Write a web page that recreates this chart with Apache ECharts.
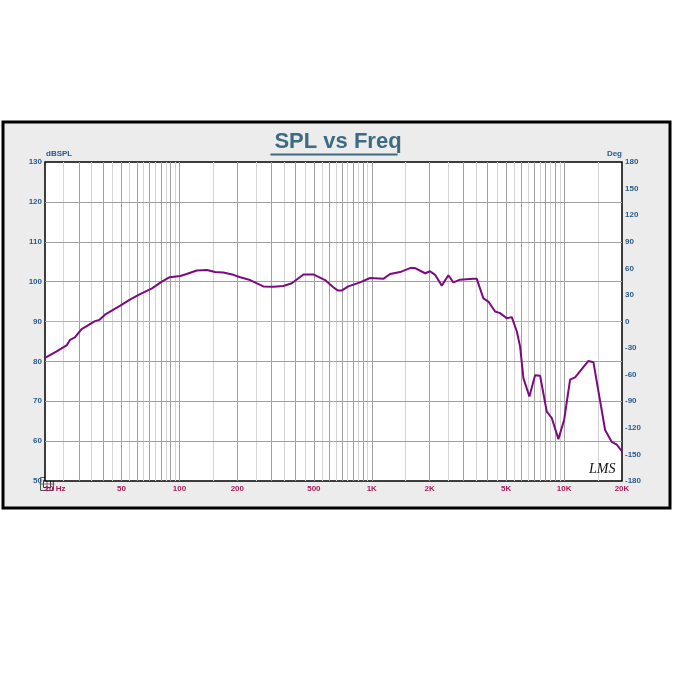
<!DOCTYPE html>
<html>
<head>
<meta charset="utf-8">
<script src="https://cdn.jsdelivr.net/npm/echarts@6/dist/echarts.min.js"></script>
<style>
html,body{margin:0;padding:0;background:#fff;}
#c{width:676px;height:676px;}
</style>
</head>
<body>
<div id="c"></div>
<script>
// ---- data ----
var freqHz = [20, 23, 26, 27, 28.6, 31, 36.4, 38.3, 41, 49, 55, 62, 72, 81, 89, 101, 109, 123, 139, 153, 169, 191, 207, 233, 273, 308, 347, 384, 441, 497, 572, 631, 665, 700, 755, 869, 980, 1149, 1245, 1404, 1582, 1679, 1893, 2010, 2134, 2312, 2502, 2657, 2878, 3374, 3516, 3804, 4040, 4378, 4647, 5036, 5346, 5678, 5906, 6144, 6600, 7066, 7502, 8126, 8628, 9340, 10000, 10744, 11406, 13378, 14204, 16338, 17702, 18794, 20000];
var splDb = [80.9, 82.5, 84.1, 85.4, 86.0, 88.1, 90.1, 90.4, 91.7, 93.9, 95.4, 96.8, 98.3, 100.0, 101.1, 101.4, 101.9, 102.8, 102.9, 102.4, 102.3, 101.7, 101.1, 100.4, 98.8, 98.7, 98.9, 99.6, 101.8, 101.8, 100.4, 98.6, 97.8, 97.8, 98.8, 99.8, 100.9, 100.7, 101.9, 102.4, 103.4, 103.4, 102.1, 102.6, 101.7, 99.0, 101.6, 99.8, 100.5, 100.7, 100.7, 95.8, 95.0, 92.5, 92.1, 90.8, 91.1, 87.5, 83.7, 75.8, 71.2, 76.5, 76.4, 67.4, 65.8, 60.5, 65.3, 75.4, 76.0, 80.1, 79.8, 62.8, 59.8, 59.1, 57.4];

var xTickValues = [20, 50, 100, 200, 500, 1000, 2000, 5000, 10000, 20000];
var xTickLabels = ['20 Hz', '50', '100', '200', '500', '1K', '2K', '5K', '10K', '20K'];
var dbGridLines = [60, 70, 80, 100, 110, 120];
var dbRefLine = 90;

// grid line frequencies (decade lines dark, half-steps light)
var majorGrid = [], minorGrid = [];
[10, 100, 1000, 10000].forEach(function (d) {
  for (var n = 1; n <= 9; n++) {
    var a = n * d, b = (n + 0.5) * d;
    if (a > 20 && a < 20000) majorGrid.push(a);
    if (b > 20 && b < 20000) minorGrid.push(b);
  }
});

var curve = freqHz.map(function (f, i) { return [f, splDb[i]]; });

var chart = echarts.init(document.getElementById('c'), null, {renderer: 'canvas'});

var titleText = 'SPL vs Freq';
var titleFont = 'bold 22px "Liberation Sans", Arial, sans-serif';
var mc = document.createElement('canvas').getContext('2d');
mc.font = titleFont;
var tw = mc.measureText(titleText).width;
var tcx = 334;

var blue = '#2a5a8c';
var red = '#a81a5a';
var lab = '"Liberation Sans", Arial, sans-serif';

var option = {
  animation: false,
  backgroundColor: '#ffffff',
  title: {
    text: titleText,
    left: 'center',
    top: 131,
    padding: 0,
    textStyle: {fontSize: 22, fontWeight: 'bold', color: '#3d6b82', fontFamily: lab}
  },
  grid: {
    left: 45, right: 54, top: 162, bottom: 195,
    show: true, backgroundColor: '#ffffff', borderColor: '#000000', borderWidth: 1.5, z: 1
  },
  xAxis: {
    type: 'log', logBase: 10, min: 20, max: 20000,
    axisLine: {show: false}, axisTick: {show: false}, splitLine: {show: false}, minorSplitLine: {show: false},
    axisLabel: {
      customValues: xTickValues,
      margin: 4,
      color: red, fontSize: 8, fontWeight: 'bold', fontFamily: lab,
      formatter: function (v) {
        var i = xTickValues.indexOf(Math.round(v));
        if (i === 0) return '{h|' + xTickLabels[0] + '}';
        return i >= 0 ? xTickLabels[i] : '';
      },
      rich: {h: {padding: [0, 0, 0, 20], color: red, fontSize: 8, fontWeight: 'bold', fontFamily: lab}}
    }
  },
  yAxis: [{
    type: 'value', min: 50, max: 130, interval: 10, position: 'left',
    name: 'dBSPL', nameLocation: 'end', nameGap: 2,
    nameTextStyle: {align: 'left', color: blue, fontSize: 8, fontWeight: 'bold', fontFamily: lab, padding: [0, 0, 0, 1]},
    axisLine: {show: false}, axisTick: {show: false}, splitLine: {show: false},
    axisLabel: {margin: 3, color: blue, fontSize: 8, fontWeight: 'bold', fontFamily: lab}
  }, {
    type: 'value', min: -180, max: 180, interval: 30, position: 'right',
    name: 'Deg', nameLocation: 'end', nameGap: 2,
    nameTextStyle: {align: 'right', color: blue, fontSize: 8, fontWeight: 'bold', fontFamily: lab},
    axisLine: {show: false}, axisTick: {show: false}, splitLine: {show: false},
    axisLabel: {margin: 3, color: blue, fontSize: 8, fontWeight: 'bold', fontFamily: lab}
  }],
  series: [{
    type: 'line', data: [], silent: true, z: 2,
    markLine: {
      silent: true, symbol: 'none', animation: false, label: {show: false},
      data: []
        .concat(minorGrid.map(function (f) { return {xAxis: f, lineStyle: {color: '#d4d4d4', width: 1, type: 'solid'}}; }))
        .concat(majorGrid.map(function (f) { return {xAxis: f, lineStyle: {color: '#a0a0a0', width: 1, type: 'solid'}}; }))
        .concat(dbGridLines.map(function (v) { return {yAxis: v, lineStyle: {color: '#a0a0a0', width: 1, type: 'solid'}}; }))
        .concat([{yAxis: dbRefLine, lineStyle: {color: '#d49ad4', width: 1, type: 'solid'}}])
    }
  }, {
    type: 'line', data: curve, showSymbol: false, silent: true, z: 5,
    lineStyle: {color: '#7d0a80', width: 2}
  }],
  graphic: [
    {type: 'rect', z: -10, shape: {x: 3, y: 122, width: 667, height: 386}, style: {fill: '#ececec', stroke: '#000', lineWidth: 3}},
    {type: 'line', z: 10, shape: {x1: tcx - tw / 2, y1: 154.5, x2: tcx + tw / 2, y2: 154.5}, style: {stroke: '#3d6b82', lineWidth: 2}},
    {type: 'text', z: 10, left: 589, top: 462, style: {text: 'LMS', font: 'italic 14px "Liberation Serif", serif', fill: '#111'}},
    {type: 'group', z: 20, left: 37, top: 474, children: [
      {type: 'rect', shape: {x: 0, y: 0, width: 13, height: 13}, style: {fill: '#e6e6e6', stroke: '#555', lineWidth: 1}},
      {type: 'rect', shape: {x: 3, y: 3, width: 7, height: 7}, style: {fill: '#fff', stroke: '#333', lineWidth: 1}},
      {type: 'line', shape: {x1: 6.5, y1: -1, x2: 6.5, y2: 14}, style: {stroke: '#666', lineWidth: 1}},
      {type: 'line', shape: {x1: -1, y1: 6.5, x2: 14, y2: 6.5}, style: {stroke: '#666', lineWidth: 1}}
    ]}
  ]
};
chart.setOption(option);
</script>
</body>
</html>
